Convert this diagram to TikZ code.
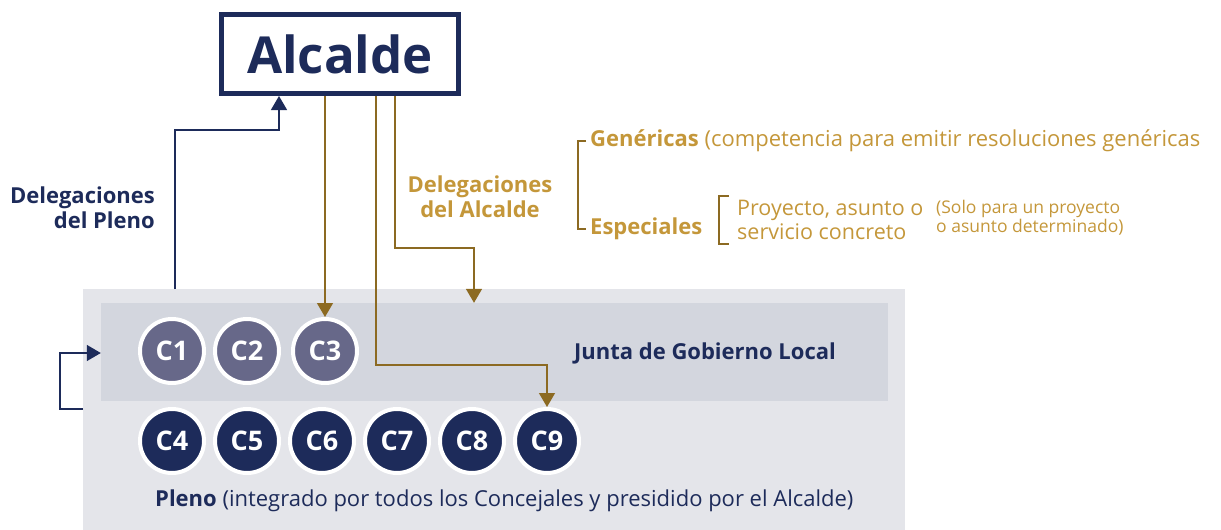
\documentclass[tikz,border=0pt]{standalone}
\usepackage{fontspec}
\setmainfont{Open Sans}
\usetikzlibrary{positioning,arrows.meta,calc}
\definecolor{navy}{HTML}{1D2B5A}
\definecolor{gold}{HTML}{C4973A}
\definecolor{brownline}{HTML}{8C6A22}
\definecolor{lila}{HTML}{676889}
\definecolor{plenogray}{HTML}{E4E5EA}
\definecolor{juntagray}{HTML}{D3D6DE}
\tikzset{
  concejal/.style={circle, draw=white, line width=4pt, minimum size=64pt,
    inner sep=0pt, text=white, font=\fontsize{27}{30}\selectfont\bfseries},
  jgl/.style={concejal, fill=lila},
  pln/.style={concejal, fill=navy},
  navyarrow/.style={draw=navy, line width=1.4pt, -{Triangle[width=16pt,length=14pt]}},
  goldarrow/.style={draw=brownline, line width=1.4pt, -{Triangle[width=16pt,length=14pt]}},
  txt/.style={inner sep=0pt, font=\fontsize{22}{26}\selectfont},
}
\begin{document}
\begin{tikzpicture}[x=1pt,y=-1pt]
\useasboundingbox (0,0) rectangle (1221,530);
% boxes
\node (pleno) [fill=plenogray, minimum width=822pt, minimum height=241pt, inner sep=0pt] at (494,409.5) {};
\node (junta) [fill=juntagray, minimum width=787pt, minimum height=98pt, inner sep=0pt] at (494.5,352) {};
\node (alcalde) [draw=navy, line width=5pt, fill=white, minimum width=237pt, minimum height=79pt,
  text=navy, font=\fontsize{51}{60}\selectfont\bfseries] at (340,54) {Alcalde};
% concejales
\node[jgl] (c1) at (172,351) {C1};
\node[jgl] (c2) at (247,351) {C2};
\node[jgl] (c3) at (325,351) {C3};
\foreach \n/\x in {4/172,5/247,6/322,7/397,8/472,9/547}
  \node[pln] (c\n) at (\x,441) {C\n};
\node[txt, text=navy, font=\fontsize{22}{26}\selectfont\bfseries] (juntalbl) at (705,353) {Junta de Gobierno Local};
\node[txt, text=navy, anchor=west] (plenolbl) at (155,501) {\textbf{Pleno} (integrado por todos los Concejales y presidido por el Alcalde)};
% delegaciones del pleno
\coordinate (p0) at (175,289);
\coordinate (p1) at (279,130);
\draw[navyarrow] (p0) |- (p1) -- (p1 |- alcalde.south);
\coordinate (lp0) at (83,409);
\coordinate (lp1) at (60,353);
\draw[navyarrow] (lp0) -| (lp1) -- (lp1 -| junta.west);
\node[txt, text=navy, align=right, anchor=east, font=\fontsize{22}{25}\selectfont\bfseries] (delpleno) at (155,208) {Delegaciones\\del Pleno};
% delegaciones del alcalde
\coordinate (a2) at (376,96);
\coordinate (a3) at (395,96);
\draw[goldarrow] (alcalde.south -| c3) -- (c3.north);
\draw[goldarrow] (a2) |- (c9 |- 0,365) -- (c9.north);
\draw[goldarrow] (a3) |- (474,248) -- (474,0 |- junta.north);
\node[txt, text=gold, align=center, font=\fontsize{22}{25}\selectfont\bfseries] (delalcalde) at (480,197) {Delegaciones\\del Alcalde};
% tipos
\node[txt, text=gold, anchor=west] (gen) at (590,141) {\textbf{Genéricas} (competencia para emitir resoluciones genéricas};
\node[txt, text=gold, anchor=west] (esp) at (590,229) {\textbf{Especiales}};
\draw[brownline, line width=1.4pt] ($(gen.west)+(-4,0)$) -- ++(-8,0) |- ($(esp.west)+(-4,0)$);
\node[txt, text=gold, anchor=west, align=left, font=\fontsize{21.5}{24}\selectfont] (proy) at (737,220) {Proyecto, asunto o\\servicio concreto};
\draw[brownline, line width=1.4pt] ($(proy.west)+(-8,-24)$) -- ++(-10,0) -- ++(0,48) -- ++(10,0);
\node[txt, text=gold, anchor=west, align=left, font=\fontsize{17.5}{19}\selectfont] (solo) at (936,218) {(Solo para un proyecto\\o asunto determinado)};
\end{tikzpicture}
\end{document}
